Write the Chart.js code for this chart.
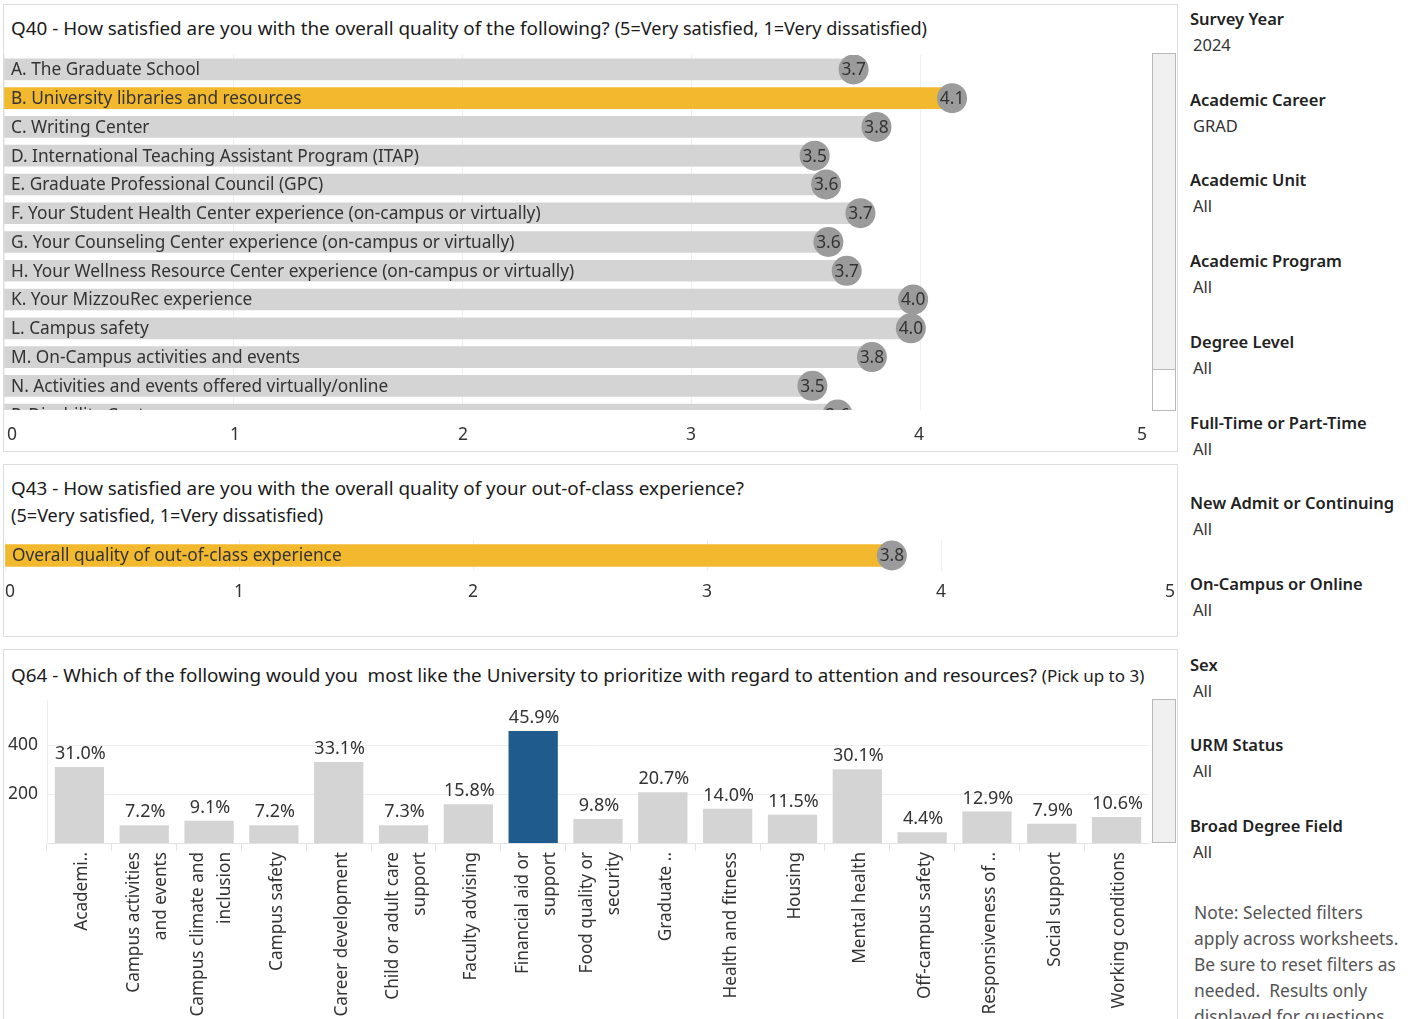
<!DOCTYPE html>
<html>
<head>
<meta charset="utf-8">
<title>Graduate survey</title>
<script src="https://cdn.jsdelivr.net/npm/chart.js@4.4.1/dist/chart.umd.min.js"></script>
<style>
body{margin:0;width:1413px;height:1019px;overflow:hidden;background:#fff;font-family:"Noto Sans",sans-serif;color:#333;position:relative;}
.panel{position:absolute;border:1px solid #dcdcdc;background:#fff;box-sizing:border-box;}
.title{position:absolute;left:11px;font-size:18.85px;color:#1a1a1a;white-space:pre;line-height:20px;}
.title small{font-size:18.1px;}
.title small.pick{font-size:17px;}
.box{position:absolute;}
.scroll{position:absolute;border:1px solid #b9b9b9;background:#fff;box-sizing:border-box;}
.thumb{position:absolute;left:0;right:0;top:0;background:#f0f0f0;border-bottom:1px solid #b9b9b9;}
.filters{position:absolute;left:1190px;top:0;width:223px;}
.fh{position:absolute;left:0;font-size:16.5px;font-weight:600;color:#222;white-space:nowrap;}
.fv{position:absolute;left:3px;font-size:16.5px;color:#333;}
.note{position:absolute;left:1194px;top:899px;font-size:17.4px;line-height:26px;color:#555;white-space:nowrap;}
</style>
</head>
<body>

<div class="panel" style="left:3px;top:4px;width:1175px;height:448px;"></div>
<div class="title" style="top:18px;">Q40 - How satisfied are you with the overall quality of the following? <small>(5=Very satisfied, 1=Very dissatisfied)</small></div>
<div class="box" style="left:7px;top:404px;width:1140px;height:42px;"><canvas id="q40Axis"></canvas></div>
<div class="box" style="left:4px;top:55px;width:1145px;height:355px;overflow:hidden;">
  <div style="position:relative;width:1145px;height:374px;"><canvas id="q40Chart"></canvas></div>
</div>
<div class="scroll" style="left:1152px;top:53px;width:24px;height:358px;"><div class="thumb" style="height:315px;"></div></div>

<div class="panel" style="left:3px;top:464px;width:1175px;height:173px;"></div>
<div class="title" style="top:478px;">Q43 - How satisfied are you with the overall quality of your out-of-class experience?</div>
<div class="title" style="top:505px;"><small>(5=Very satisfied, 1=Very dissatisfied)</small></div>
<div class="box" style="left:5px;top:540px;width:1170px;height:62px;"><canvas id="q43Chart"></canvas></div>

<div class="panel" style="left:3px;top:649px;width:1175px;height:380px;"></div>
<div class="title" style="top:665px;">Q64 - Which of the following would you  most like the University to prioritize with regard to attention and resources? <small class="pick">(Pick up to 3)</small></div>
<div class="box" style="left:0px;top:700px;width:1149px;height:319px;"><canvas id="q64Chart"></canvas></div>
<div class="scroll" style="left:1152px;top:699px;width:24px;height:144px;"><div class="thumb" style="height:142px;border-bottom:none;"></div></div>

<div class="filters" id="filters"></div>
<div class="note">Note: Selected filters<br>apply across worksheets.<br>Be sure to reset filters as<br>needed.&nbsp; Results only<br>displayed for questions</div>

<script>
// Q40 - satisfaction with services (1-5)
const q40Items = [
"A. The Graduate School",
"B. University libraries and resources",
"C. Writing Center",
"D. International Teaching Assistant Program (ITAP)",
"E. Graduate Professional Council (GPC)",
"F. Your Student Health Center experience (on-campus or virtually)",
"G. Your Counseling Center experience (on-campus or virtually)",
"H. Your Wellness Resource Center experience (on-campus or virtually)",
"K. Your MizzouRec experience",
"L. Campus safety",
"M. On-Campus activities and events",
"N. Activities and events offered virtually/online",
"P. Disability Center"
];
const q40Scores = [3.71, 4.14, 3.81, 3.54, 3.59, 3.74, 3.60, 3.68, 3.97, 3.96, 3.79, 3.53, 3.64];
const q40Selected = 1;

// Q43 - out-of-class experience
const q43Items = ["Overall quality of out-of-class experience"];
const q43Scores = [3.79];

// Q64 - priorities (counts, share of respondents)
const q64Items = [
"Academi..",
["Campus activities","and events"],
["Campus climate and","inclusion"],
"Campus safety",
"Career development",
["Child or adult care","support"],
"Faculty advising",
["Financial aid or","support"],
["Food quality or","security"],
"Graduate ..",
"Health and fitness",
"Housing",
"Mental health",
"Off-campus safety",
"Responsiveness of ..",
"Social support",
"Working conditions"
];
const q64Counts = [310, 72, 91, 72, 331, 73, 158, 457, 98, 207, 140, 115, 301, 44, 129, 79, 106];
const q64Pct = ["31.0%","7.2%","9.1%","7.2%","33.1%","7.3%","15.8%","45.9%","9.8%","20.7%","14.0%","11.5%","30.1%","4.4%","12.9%","7.9%","10.6%"];
const q64Selected = 7;

const scaleTicks = [0, 1, 2, 3, 4, 5];

// filter panel
const filterNames = ["Survey Year","Academic Career","Academic Unit","Academic Program","Degree Level","Full-Time or Part-Time","New Admit or Continuing","On-Campus or Online","Sex","URM Status","Broad Degree Field"];
const filterValues = ["2024","GRAD","All","All","All","All","All","All","All","All","All"];

const ORANGE = "#f2b82e";
const GREY = "#d4d4d4";
const BLUE = "#1f5b8d";
const DOT = "#9b9b9b";
const FONT = "Noto Sans";
const ROW_FONT = "17.3px 'Noto Sans'";

Chart.defaults.font.family = FONT;
Chart.defaults.font.size = 17.5;
Chart.defaults.color = "#333";
Chart.defaults.animation = false;
Chart.defaults.responsive = true;
Chart.defaults.maintainAspectRatio = false;
Chart.defaults.devicePixelRatio = 1;
Chart.defaults.plugins.legend.display = false;
Chart.defaults.plugins.tooltip.enabled = false;

let fh = "";
filterNames.forEach((n, i) => {
  const y = 19 + i * 80.7;
  fh += '<div class="fh" style="top:' + (y - 12) + 'px">' + n + '</div>';
  fh += '<div class="fv" style="top:' + (y + 14) + 'px">' + filterValues[i] + '</div>';
});
document.getElementById("filters").innerHTML = fh;

// stop scales from reserving room for half-labels at the ends
function noEdgePad(s) {
  s.paddingLeft = 0; s.paddingRight = 0; s.paddingTop = 0; s.paddingBottom = 0;
}

// names inside bars + score text in the circles
const rowText = {
  id: "rowText",
  afterDatasetsDraw(chart, args, opts) {
    const ctx = chart.ctx;
    const bars = chart.getDatasetMeta(0).data;
    const dots = chart.getDatasetMeta(1).data;
    const x0 = chart.scales.x.getPixelForValue(0);
    ctx.save();
    ctx.font = ROW_FONT;
    ctx.textBaseline = "middle";
    bars.forEach((b, i) => {
      ctx.fillStyle = "#333";
      ctx.textAlign = "left";
      ctx.fillText(opts.names[i], x0 + 7, b.y + 1);
      ctx.textAlign = "center";
      ctx.fillText(opts.scores[i].toFixed(1), dots[i].x, dots[i].y + 1);
    });
    ctx.restore();
  }
};

function scoreChart(id, names, scores, colors, thickness, xAxis) {
  return new Chart(document.getElementById(id), {
    data: {
      labels: names,
      datasets: [
        {type: "bar", data: scores, backgroundColor: colors, barThickness: thickness, order: 2},
        {type: "line", data: scores, showLine: false, pointRadius: 15, pointBackgroundColor: DOT, pointBorderWidth: 0, order: 1, clip: false}
      ]
    },
    options: {
      indexAxis: "y",
      layout: {padding: 0, autoPadding: false},
      scales: {x: xAxis, y: {display: false}},
      plugins: {rowText: {names: names, scores: scores}}
    },
    plugins: [rowText]
  });
}

const q40Chart = scoreChart("q40Chart", q40Items, q40Scores,
  q40Items.map((n, i) => i === q40Selected ? ORANGE : GREY), 21,
  {min: 0, max: 5, ticks: {display: false, stepSize: 1}, grid: {color: "#efefef", drawTicks: false}, border: {display: false}});

// x axis of Q40 (bars area scrolls above it)
new Chart(document.getElementById("q40Axis"), {
  type: "bar",
  data: {labels: [""], datasets: [{data: []}]},
  options: {
    indexAxis: "y",
    layout: {padding: 0, autoPadding: false},
    scales: {
      x: {min: 0, max: 5, afterBuildTicks: s => { s.ticks = scaleTicks.map(v => ({value: v})); },
          afterFit: noEdgePad,
          ticks: {color: "#333", align: "inner", padding: 0},
          grid: {display: false, drawTicks: false}, border: {display: false}},
      y: {display: false}
    }
  }
});

// Q43 single bar with its own axis
scoreChart("q43Chart", q43Items, q43Scores, ORANGE, 22,
  {min: 0, max: 5, afterBuildTicks: s => { s.ticks = scaleTicks.map(v => ({value: v})); },
   afterFit: noEdgePad,
   ticks: {color: "#333", align: "inner", padding: 11},
   grid: {color: "#efefef", drawTicks: false}, border: {display: false}});

// Q64 column chart with percent labels
const pctLabels = {
  id: "pctLabels",
  afterDatasetsDraw(chart) {
    const ctx = chart.ctx;
    ctx.save();
    ctx.font = "18px '" + FONT + "'";
    ctx.fillStyle = "#333";
    ctx.textAlign = "center";
    ctx.textBaseline = "bottom";
    chart.getDatasetMeta(0).data.forEach((b, i) => {
      ctx.fillText(q64Pct[i], b.x + 1, b.y - 4);
    });
    ctx.restore();
  }
};

new Chart(document.getElementById("q64Chart"), {
  type: "bar",
  data: {
    labels: q64Items,
    datasets: [{
      data: q64Counts,
      backgroundColor: q64Counts.map((v, i) => i === q64Selected ? BLUE : GREY),
      categoryPercentage: 1,
      barPercentage: 0.76
    }]
  },
  options: {
    layout: {padding: 0, autoPadding: false},
    scales: {
      x: {
        ticks: {
          autoSkip: false, minRotation: 90, maxRotation: 90, padding: 1,
          font: {size: 17.2, lineHeight: 1.57}, color: "#333",
          labelOffset: -10.5,
          // one-line labels get pushed half a line so every block sits centred on its column
          showLabelBackdrop: c => !Array.isArray(q64Items[c.index]),
          backdropColor: "rgba(0,0,0,0)", backdropPadding: 0
        },
        grid: {drawOnChartArea: false, tickLength: 8, color: "#e3e3e3"},
        border: {color: "#e3e3e3"},
        afterFit: s => { noEdgePad(s); s.height = 176; }
      },
      y: {
        min: 0, max: 584,
        afterBuildTicks: s => { s.ticks = [{value: 200}, {value: 400}]; },
        ticks: {color: "#333", padding: 9},
        grid: {color: "#eeeeee", drawTicks: false},
        border: {color: "#eeeeee"},
        afterFit: s => { noEdgePad(s); s.width = 47; }
      }
    }
  },
  plugins: [pctLabels]
});
</script>
</body>
</html>
